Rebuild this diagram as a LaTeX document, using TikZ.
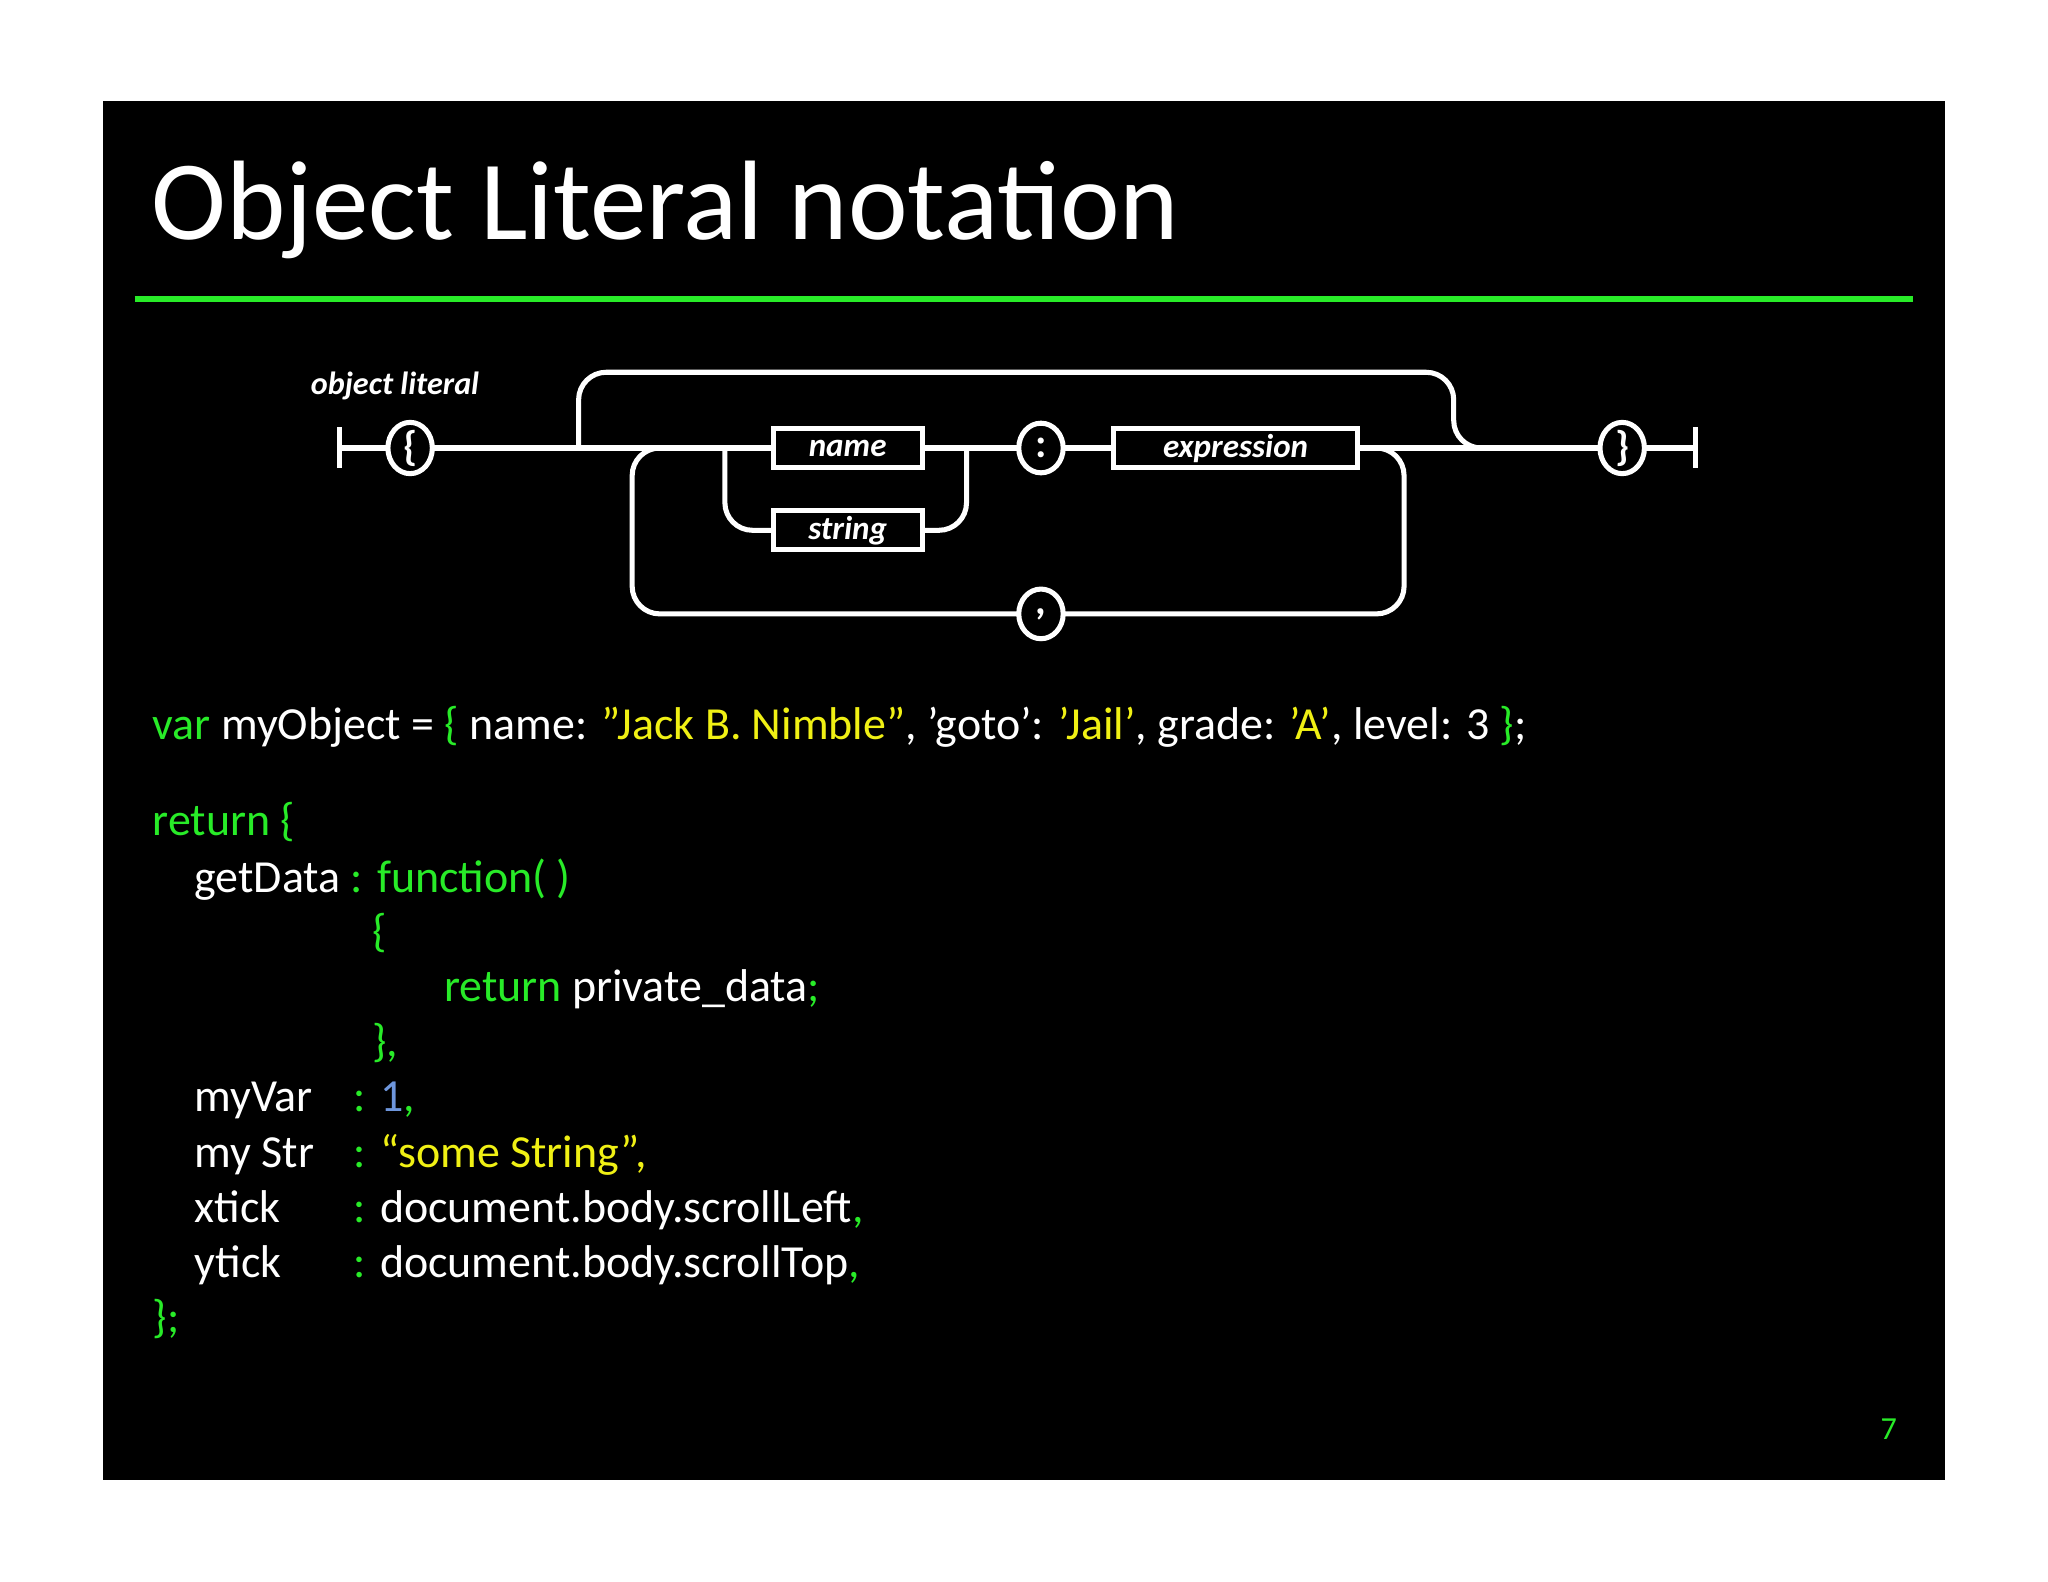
\documentclass[tikz,border=0pt]{standalone}
\usepackage{fontspec}
\setmainfont{Carlito}
\usetikzlibrary{shapes.geometric}
\definecolor{grn}{RGB}{40,235,40}
\definecolor{ylw}{RGB}{240,240,20}
\definecolor{blu}{RGB}{110,150,220}
\newcommand{\dq}{\symbol{"22}}
\newcommand{\sq}{\symbol{"27}}
\begin{document}
\begin{tikzpicture}[x=0.01cm,y=-0.01cm]
\tikzset{ inner sep=0pt, outer sep=0pt,
  rail/.style={white, line width=1.1pt, rounded corners=6},
  term/.style={ellipse, draw=white, line width=1.1pt, minimum width=0.34cm, minimum height=0.38cm, text=white, font=\bfseries\fontsize{9}{9}\selectfont},
  nonterm/.style={draw=white, line width=1.1pt, minimum height=0.30cm, text=white, font=\bfseries\itshape\fontsize{7.2}{8}\selectfont},
  code/.style={anchor=base west, text=white, font=\fontsize{10}{12}\selectfont},
}
\useasboundingbox (0,0) rectangle (1568,1211);

%%% Fundo
\fill[white] (0,0) rectangle (1568,1211);
\fill[black] (79,77) rectangle (1489,1133);

% titulo
\node[anchor=base west, text=white, font=\fontsize{24.6}{28}\selectfont] (title) at (116,183) {Object Literal notation};
\draw[grn, line width=1.2pt] (103,229) -- (1465,229);

%%% Diagrama
\node[anchor=base west, text=white, font=\bfseries\itshape\fontsize{7}{8}\selectfont] (olabel) at (238,302) {object literal};
\draw[white, line width=1.1pt] (260,327) -- (260,358);
\draw[white, line width=1.1pt] (1298,327) -- (1298,358);
\coordinate (start) at (260,343);
\coordinate (stop) at (1298,343);
\node[term] (lbrace) at (314,343) {\{};
\node[term] (rbrace) at (1242,343) {\}};
\node[nonterm, minimum width=1.14cm] (name) at (649,343) {name};
\node[nonterm, minimum width=1.14cm] (string) at (649,406) {string};
\node[term] (colon) at (797,343) {:};
\node[nonterm, minimum width=1.87cm] (expr) at (946,343) {expression};
\node[term] (comma) at (797,470) {,};

\coordinate (jA) at (443,343);
\coordinate (jB) at (555,343);
\coordinate (jC) at (740,343);
\coordinate (jD) at (1120,343);

% linhas
\draw[rail] (start) -- (lbrace);
\draw[rail] (lbrace) -- (name);
\draw[rail] (jA) -- (443,285) -- (1113,285) -- (1113,343) -- (1125,343);
\draw[rail] (jB) -- (555,406) -- (string.west);
\draw[rail] (string.east) -- (740,406) -- (jC);
\draw[rail] (name) -- (colon);
\draw[rail] (colon) -- (expr);
\draw[rail] (expr) -- (rbrace);
\draw[rail] (rbrace) -- (stop);
\draw[rail] (1062,343) -- (1075,343) -- (1075,470) -- (comma.east);
\draw[rail] (comma.west) -- (484,470) -- (484,343) -- (498,343);

%%% Codigo
\node[code] (l1) at (117,566) {\textcolor{grn}{var} myObject = \textcolor{grn}{\{} name: \textcolor{ylw}{\dq Jack B. Nimble\dq}, \sq goto\sq: \textcolor{ylw}{\sq Jail\sq}, grade: \textcolor{ylw}{\sq A\sq}, level: 3 \textcolor{grn}{\}};};
\node[code, text=grn] (l2) at (117,640) {return \{};
\node[code] (l3) at (149,683) {getData \textcolor{grn}{: function( )}};
\node[code, text=grn] (l4) at (285,725) {\{};
\node[code] (l5) at (340,767) {\textcolor{grn}{return} private\_data\textcolor{grn}{;}};
\node[code, text=grn] (l6) at (285,809) {\},};
\node[code] (l7) at (149,851) {myVar};
\node[code] (l8) at (149,894) {my Str};
\node[code] (l9) at (149,936) {xtick};
\node[code] (l10) at (149,978) {ytick};
\node[code] (v7) at (271,851) {\textcolor{grn}{:} \textcolor{blu}{1}\textcolor{grn}{,}};
\node[code, text=ylw] (v8) at (271,894) {\textcolor{grn}{:} “some String”,};
\node[code] (v9) at (271,936) {\textcolor{grn}{:} document.body.scrollLeft\textcolor{grn}{,}};
\node[code] (v10) at (271,978) {\textcolor{grn}{:} document.body.scrollTop\textcolor{grn}{,}};
\node[code, text=grn] (l11) at (117,1020) {\};};

\node[anchor=base, text=grn, font=\fontsize{7}{8}\selectfont] (pg) at (1446,1102) {7};
\end{tikzpicture}
\end{document}
